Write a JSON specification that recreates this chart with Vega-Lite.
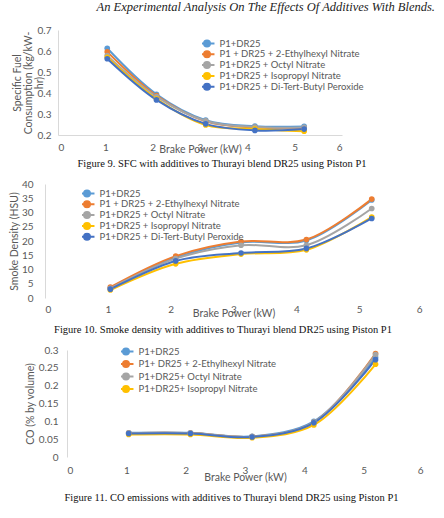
{
  "$schema": "https://vega.github.io/schema/vega-lite/v6.json",
  "background": "white",
  "padding": {"left": 9, "top": 0, "right": 0, "bottom": 0},
  "title": {"text": "An Experimental Analysis On The Effects Of Additives With Blends.", "anchor": "end", "frame": "bounds", "font": "Liberation Serif", "fontStyle": "italic", "fontWeight": "normal", "fontSize": 12.5, "color": "#222222", "offset": 8, "dy": -4},
  "spacing": 10,
  "resolve": {"scale": {"color": "independent", "fill": "independent"}, "legend": {"color": "independent"}},
  "datasets": {
    "sfc": [
      {"bp": 1.04, "series": "P1+DR25", "v": 0.613},
      {"bp": 2.08, "series": "P1+DR25", "v": 0.394},
      {"bp": 3.12, "series": "P1+DR25", "v": 0.271},
      {"bp": 4.16, "series": "P1+DR25", "v": 0.242},
      {"bp": 5.2, "series": "P1+DR25", "v": 0.241},
      {"bp": 1.04, "series": "P1 + DR25 + 2-Ethylhexyl Nitrate", "v": 0.596},
      {"bp": 2.08, "series": "P1 + DR25 + 2-Ethylhexyl Nitrate", "v": 0.388},
      {"bp": 3.12, "series": "P1 + DR25 + 2-Ethylhexyl Nitrate", "v": 0.265},
      {"bp": 4.16, "series": "P1 + DR25 + 2-Ethylhexyl Nitrate", "v": 0.236},
      {"bp": 5.2, "series": "P1 + DR25 + 2-Ethylhexyl Nitrate", "v": 0.233},
      {"bp": 1.04, "series": "P1+DR25 + Octyl Nitrate", "v": 0.578},
      {"bp": 2.08, "series": "P1+DR25 + Octyl Nitrate", "v": 0.383},
      {"bp": 3.12, "series": "P1+DR25 + Octyl Nitrate", "v": 0.267},
      {"bp": 4.16, "series": "P1+DR25 + Octyl Nitrate", "v": 0.238},
      {"bp": 5.2, "series": "P1+DR25 + Octyl Nitrate", "v": 0.236},
      {"bp": 1.04, "series": "P1+DR25 + Isopropyl Nitrate", "v": 0.57},
      {"bp": 2.08, "series": "P1+DR25 + Isopropyl Nitrate", "v": 0.372},
      {"bp": 3.12, "series": "P1+DR25 + Isopropyl Nitrate", "v": 0.248},
      {"bp": 4.16, "series": "P1+DR25 + Isopropyl Nitrate", "v": 0.229},
      {"bp": 5.2, "series": "P1+DR25 + Isopropyl Nitrate", "v": 0.218},
      {"bp": 1.04, "series": "P1+DR25 + Di-Tert-Butyl Peroxide", "v": 0.563},
      {"bp": 2.08, "series": "P1+DR25 + Di-Tert-Butyl Peroxide", "v": 0.367},
      {"bp": 3.12, "series": "P1+DR25 + Di-Tert-Butyl Peroxide", "v": 0.253},
      {"bp": 4.16, "series": "P1+DR25 + Di-Tert-Butyl Peroxide", "v": 0.222},
      {"bp": 5.2, "series": "P1+DR25 + Di-Tert-Butyl Peroxide", "v": 0.228}
    ],
    "smoke": [
      {"bp": 1.04, "series": "P1+DR25", "v": 3.5},
      {"bp": 2.08, "series": "P1+DR25", "v": 14.2},
      {"bp": 3.12, "series": "P1+DR25", "v": 19.5},
      {"bp": 4.16, "series": "P1+DR25", "v": 20.2},
      {"bp": 5.2, "series": "P1+DR25", "v": 34.4},
      {"bp": 1.04, "series": "P1 + DR25 + 2-Ethylhexyl Nitrate", "v": 3.8},
      {"bp": 2.08, "series": "P1 + DR25 + 2-Ethylhexyl Nitrate", "v": 14.7},
      {"bp": 3.12, "series": "P1 + DR25 + 2-Ethylhexyl Nitrate", "v": 19.8},
      {"bp": 4.16, "series": "P1 + DR25 + 2-Ethylhexyl Nitrate", "v": 20.5},
      {"bp": 5.2, "series": "P1 + DR25 + 2-Ethylhexyl Nitrate", "v": 34.7},
      {"bp": 1.04, "series": "P1+DR25 + Octyl Nitrate", "v": 3.4},
      {"bp": 2.08, "series": "P1+DR25 + Octyl Nitrate", "v": 13.8},
      {"bp": 3.12, "series": "P1+DR25 + Octyl Nitrate", "v": 18.5},
      {"bp": 4.16, "series": "P1+DR25 + Octyl Nitrate", "v": 18.5},
      {"bp": 5.2, "series": "P1+DR25 + Octyl Nitrate", "v": 31.4},
      {"bp": 1.04, "series": "P1+DR25 + Isopropyl Nitrate", "v": 2.8},
      {"bp": 2.08, "series": "P1+DR25 + Isopropyl Nitrate", "v": 12.0},
      {"bp": 3.12, "series": "P1+DR25 + Isopropyl Nitrate", "v": 15.4},
      {"bp": 4.16, "series": "P1+DR25 + Isopropyl Nitrate", "v": 16.9},
      {"bp": 5.2, "series": "P1+DR25 + Isopropyl Nitrate", "v": 28.4},
      {"bp": 1.04, "series": "P1+DR25 + Di-Tert-Butyl Peroxide", "v": 3.1},
      {"bp": 2.08, "series": "P1+DR25 + Di-Tert-Butyl Peroxide", "v": 13.0},
      {"bp": 3.12, "series": "P1+DR25 + Di-Tert-Butyl Peroxide", "v": 15.8},
      {"bp": 4.16, "series": "P1+DR25 + Di-Tert-Butyl Peroxide", "v": 17.4},
      {"bp": 5.2, "series": "P1+DR25 + Di-Tert-Butyl Peroxide", "v": 27.9}
    ],
    "co": [
      {"bp": 1.04, "series": "P1+DR25", "v": 0.068},
      {"bp": 2.08, "series": "P1+DR25", "v": 0.068},
      {"bp": 3.12, "series": "P1+DR25", "v": 0.058},
      {"bp": 4.16, "series": "P1+DR25", "v": 0.1},
      {"bp": 5.2, "series": "P1+DR25", "v": 0.28},
      {"bp": 1.04, "series": "P1+ DR25 + 2-Ethylhexyl Nitrate", "v": 0.067},
      {"bp": 2.08, "series": "P1+ DR25 + 2-Ethylhexyl Nitrate", "v": 0.067},
      {"bp": 3.12, "series": "P1+ DR25 + 2-Ethylhexyl Nitrate", "v": 0.057},
      {"bp": 4.16, "series": "P1+ DR25 + 2-Ethylhexyl Nitrate", "v": 0.097},
      {"bp": 5.2, "series": "P1+ DR25 + 2-Ethylhexyl Nitrate", "v": 0.29},
      {"bp": 1.04, "series": "P1+DR25+ Octyl Nitrate", "v": 0.067},
      {"bp": 2.08, "series": "P1+DR25+ Octyl Nitrate", "v": 0.067},
      {"bp": 3.12, "series": "P1+DR25+ Octyl Nitrate", "v": 0.057},
      {"bp": 4.16, "series": "P1+DR25+ Octyl Nitrate", "v": 0.097},
      {"bp": 5.2, "series": "P1+DR25+ Octyl Nitrate", "v": 0.287},
      {"bp": 1.04, "series": "P1+DR25+ Isopropyl Nitrate", "v": 0.063},
      {"bp": 2.08, "series": "P1+DR25+ Isopropyl Nitrate", "v": 0.063},
      {"bp": 3.12, "series": "P1+DR25+ Isopropyl Nitrate", "v": 0.054},
      {"bp": 4.16, "series": "P1+DR25+ Isopropyl Nitrate", "v": 0.09},
      {"bp": 5.2, "series": "P1+DR25+ Isopropyl Nitrate", "v": 0.26},
      {"bp": 1.04, "series": "P1+DR25+ Di-Tert-Butyl Peroxide", "v": 0.066},
      {"bp": 2.08, "series": "P1+DR25+ Di-Tert-Butyl Peroxide", "v": 0.066},
      {"bp": 3.12, "series": "P1+DR25+ Di-Tert-Butyl Peroxide", "v": 0.056},
      {"bp": 4.16, "series": "P1+DR25+ Di-Tert-Butyl Peroxide", "v": 0.096},
      {"bp": 5.2, "series": "P1+DR25+ Di-Tert-Butyl Peroxide", "v": 0.273}
    ]
  },
  "config": {
    "font": "Lato",
    "view": {"stroke": null},
    "axis": {"grid": false, "ticks": false, "domainColor": "#d9d9d9", "domainWidth": 1, "labelColor": "#595959", "titleColor": "#595959", "labelFont": "Lato", "titleFont": "Lato", "labelFontSize": 10, "titleFontSize": 10.5, "titleFontWeight": "normal"},
    "legend": {"orient": "none", "title": null, "labelFont": "Lato", "labelFontSize": 9.5, "labelColor": "#595959", "symbolSize": 56, "symbolStrokeWidth": 2, "rowPadding": 0.8, "clipHeight": 9, "labelOffset": 7.5, "padding": 0},
    "title": {"font": "Liberation Serif", "fontSize": 10.5, "fontWeight": "normal", "color": "#111111"}
  },
  "vconcat": [
    {
      "width": 284, "height": 105,
      "data": {"name": "sfc"},
      "title": {"text": "Figure 9. SFC with additives to Thurayi blend DR25 using Piston P1", "orient": "bottom", "frame": "group", "offset": 4, "dx": 22},
      "encoding": {
        "x": {"field": "bp", "type": "quantitative", "scale": {"domain": [0, 6]}, "axis": {"values": [0, 1, 2, 3, 4, 5, 6], "title": "Brake Power (kW)", "labelPadding": 7, "titlePadding": -8}},
        "y": {"field": "v", "type": "quantitative", "scale": {"domain": [0.2, 0.7], "zero": false}, "axis": {"values": [0.2, 0.3, 0.4, 0.5, 0.6, 0.7], "format": "~g", "title": ["Specific Fuel", "Consumption (kg/kW-", "hr)"], "labelPadding": 7, "titlePadding": -7, "titleLineHeight": 11}}
      },
      "layer": [
        {"mark": {"type": "line", "interpolate": "catmull-rom", "strokeWidth": 2},
         "encoding": {"color": {"field": "series", "type": "nominal", "scale": {"domain": ["P1+DR25", "P1 + DR25 + 2-Ethylhexyl Nitrate", "P1+DR25 + Octyl Nitrate", "P1+DR25 + Isopropyl Nitrate", "P1+DR25 + Di-Tert-Butyl Peroxide"], "range": ["#5B9BD5", "#ED7D31", "#A5A5A5", "#FFC000", "#4472C4"]},
          "legend": {"legendX": 144, "legendY": 9, "symbolType": "M-2,0L2,0M-0.8,0A0.8,0.8,0,1,1,0.8,0A0.8,0.8,0,1,1,-0.8,0Z", "encode": {"symbols": {"update": {"fill": {"signal": "datum.value == 'P1+DR25' ? '#5B9BD5' : indexof(datum.value, 'Ethylhexyl') >= 0 ? '#ED7D31' : indexof(datum.value, 'Octyl') >= 0 ? '#A5A5A5' : indexof(datum.value, 'Isopropyl') >= 0 ? '#FFC000' : '#4472C4'"}, "strokeWidth": {"value": 2}}}}}}}},
        {"mark": {"type": "point", "filled": true, "size": 32, "opacity": 1},
         "encoding": {"fill": {"field": "series", "type": "nominal", "legend": null, "scale": {"domain": ["P1+DR25", "P1 + DR25 + 2-Ethylhexyl Nitrate", "P1+DR25 + Octyl Nitrate", "P1+DR25 + Isopropyl Nitrate", "P1+DR25 + Di-Tert-Butyl Peroxide"], "range": ["#5B9BD5", "#ED7D31", "#A5A5A5", "#FFC000", "#4472C4"]}}}}
      ]
    },
    {
      "width": 364, "height": 114,
      "data": {"name": "smoke"},
      "title": {"text": "Figure 10. Smoke density with additives to Thurayi blend DR25 using Piston P1", "orient": "bottom", "frame": "group", "offset": 6, "dx": -17},
      "encoding": {
        "x": {"field": "bp", "type": "quantitative", "scale": {"domain": [0, 6], "range": [-13, 364]}, "axis": {"values": [0, 1, 2, 3, 4, 5, 6], "title": "Brake Power (kW)", "labelPadding": 6, "titlePadding": -6, "domain": false, "titleX": 175.5}},
        "y": {"field": "v", "type": "quantitative", "scale": {"domain": [0, 40]}, "axis": {"values": [0, 5, 10, 15, 20, 25, 30, 35, 40], "title": "Smoke Density (HSU)", "labelPadding": 12, "titlePadding": 2, "offset": 13}}
      },
      "layer": [
        {"data": {"values": [{}]}, "mark": {"type": "rule", "color": "#d9d9d9", "strokeWidth": 1}, "encoding": {"x": {"datum": 0}, "x2": {"datum": 6}, "y": {"datum": 0}}},
        {"mark": {"type": "line", "interpolate": "catmull-rom", "strokeWidth": 2},
         "encoding": {"color": {"field": "series", "type": "nominal", "scale": {"domain": ["P1+DR25", "P1 + DR25 + 2-Ethylhexyl Nitrate", "P1+DR25 + Octyl Nitrate", "P1+DR25 + Isopropyl Nitrate", "P1+DR25 + Di-Tert-Butyl Peroxide"], "range": ["#5B9BD5", "#ED7D31", "#A5A5A5", "#FFC000", "#4472C4"]},
          "legend": {"legendX": 24, "legendY": 5, "symbolType": "M-2,0L2,0M-0.8,0A0.8,0.8,0,1,1,0.8,0A0.8,0.8,0,1,1,-0.8,0Z", "encode": {"symbols": {"update": {"fill": {"signal": "datum.value == 'P1+DR25' ? '#5B9BD5' : indexof(datum.value, 'Ethylhexyl') >= 0 ? '#ED7D31' : indexof(datum.value, 'Octyl') >= 0 ? '#A5A5A5' : indexof(datum.value, 'Isopropyl') >= 0 ? '#FFC000' : '#4472C4'"}, "strokeWidth": {"value": 2}}}}}}}},
        {"mark": {"type": "point", "filled": true, "size": 32, "opacity": 1},
         "encoding": {"fill": {"field": "series", "type": "nominal", "legend": null, "scale": {"domain": ["P1+DR25", "P1 + DR25 + 2-Ethylhexyl Nitrate", "P1+DR25 + Octyl Nitrate", "P1+DR25 + Isopropyl Nitrate", "P1+DR25 + Di-Tert-Butyl Peroxide"], "range": ["#5B9BD5", "#ED7D31", "#A5A5A5", "#FFC000", "#4472C4"]}}}}
      ]
    },
    {
      "width": 365, "height": 107,
      "data": {"name": "co"},
      "title": {"text": "Figure 11. CO emissions with additives to Thurayi blend DR25 using Piston P1", "orient": "bottom", "frame": "group", "offset": 10, "dx": -9},
      "encoding": {
        "x": {"field": "bp", "type": "quantitative", "scale": {"domain": [0, 6], "range": [9, 365]}, "axis": {"values": [0, 1, 2, 3, 4, 5, 6], "title": "Brake Power (kW)", "labelPadding": 8, "titlePadding": -3, "domain": false, "titleX": 187}},
        "y": {"field": "v", "type": "quantitative", "scale": {"domain": [0, 0.3]}, "axis": {"values": [0, 0.05, 0.1, 0.15, 0.2, 0.25, 0.3], "format": "~g", "title": "CO (% by volume)", "labelPadding": 9, "titlePadding": 3, "offset": -9}}
      },
      "layer": [
        {"data": {"values": [{}]}, "mark": {"type": "rule", "color": "#d9d9d9", "strokeWidth": 1}, "encoding": {"x": {"datum": 0}, "x2": {"datum": 6}, "y": {"datum": 0}}},
        {"mark": {"type": "line", "interpolate": "catmull-rom", "strokeWidth": 2},
         "encoding": {"color": {"field": "series", "type": "nominal", "scale": {"domain": ["P1+DR25", "P1+ DR25 + 2-Ethylhexyl Nitrate", "P1+DR25+ Octyl Nitrate", "P1+DR25+ Isopropyl Nitrate", "P1+DR25+ Di-Tert-Butyl Peroxide"], "range": ["#5B9BD5", "#ED7D31", "#A5A5A5", "#FFC000", "#4472C4"]},
          "legend": {"legendX": 63, "legendY": -3, "symbolType": "M-2,0L2,0M-0.8,0A0.8,0.8,0,1,1,0.8,0A0.8,0.8,0,1,1,-0.8,0Z", "values": ["P1+DR25", "P1+ DR25 + 2-Ethylhexyl Nitrate", "P1+DR25+ Octyl Nitrate", "P1+DR25+ Isopropyl Nitrate"], "rowPadding": 2.5, "encode": {"symbols": {"update": {"fill": {"signal": "datum.value == 'P1+DR25' ? '#5B9BD5' : indexof(datum.value, 'Ethylhexyl') >= 0 ? '#ED7D31' : indexof(datum.value, 'Octyl') >= 0 ? '#A5A5A5' : indexof(datum.value, 'Isopropyl') >= 0 ? '#FFC000' : '#4472C4'"}, "strokeWidth": {"value": 2}}}}}}}},
        {"mark": {"type": "point", "filled": true, "size": 32, "opacity": 1},
         "encoding": {"fill": {"field": "series", "type": "nominal", "legend": null, "scale": {"domain": ["P1+DR25", "P1+ DR25 + 2-Ethylhexyl Nitrate", "P1+DR25+ Octyl Nitrate", "P1+DR25+ Isopropyl Nitrate", "P1+DR25+ Di-Tert-Butyl Peroxide"], "range": ["#5B9BD5", "#ED7D31", "#A5A5A5", "#FFC000", "#4472C4"]}}}}
      ]
    }
  ]
}
